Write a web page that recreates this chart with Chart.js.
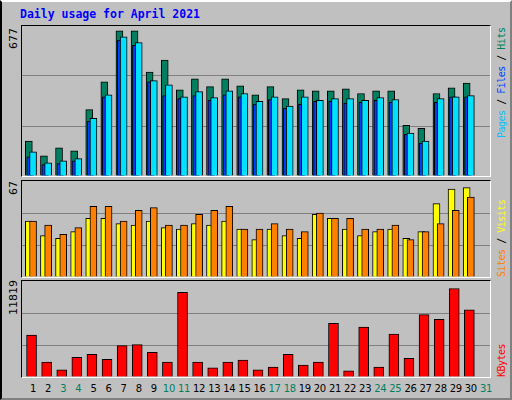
<!DOCTYPE html>
<html>
<head>
<meta charset="utf-8">
<script src="https://cdn.jsdelivr.net/npm/chart.js@4"></script>
<style>
  body { margin: 0; background: #fff; }
  #frame { position: relative; width: 508px; height: 396px; background: #c0c0c0;
    border-left: 2px solid #000; border-top: 2px solid #fff; border-right: 2px solid #808080; border-bottom: 2px solid #808080; }
  .panel { position: absolute; left: 19px; width: 468px; background: #c0c0c0;
    border-left: 1px solid #000; border-top: 1px solid #000; border-right: 1px solid #fff; border-bottom: 1px solid #fff; }
  .panel canvas { display: block; }
  .txt { position: absolute; font-family: "DejaVu Sans Mono", monospace; font-size: 10px; letter-spacing: -0.5px; white-space: nowrap; line-height: 12px; }
  .rot { transform-origin: left top; transform: rotate(-90deg); }
  #title { left: 18px; top: 6px; color: #0000ff; font-weight: bold; font-size: 11.5px; letter-spacing: 0; }
  .day { position: absolute; top: 381px; font-family: "DejaVu Sans", sans-serif; font-size: 10px; letter-spacing: -0.3px; transform: translateX(-50%); }
</style>
</head>
<body>
<div id="frame">
  <div class="txt" id="title">Daily usage for April 2021</div>
  <div class="panel" style="top:23px;height:150px"><canvas id="c1" width="468" height="150"></canvas></div>
  <div class="panel" style="top:178px;height:96px"><canvas id="c2" width="468" height="96"></canvas></div>
  <div class="panel" style="top:278px;height:96px"><canvas id="c3" width="468" height="96"></canvas></div>
  <div class="txt rot" style="left:6px;top:47px;font-family:'DejaVu Sans',sans-serif;font-size:11px;letter-spacing:0">677</div>
  <div class="txt rot" style="left:6px;top:193px;font-family:'DejaVu Sans',sans-serif;font-size:11px;letter-spacing:0">67</div>
  <div class="txt rot" style="left:6px;top:313px;font-family:'DejaVu Sans',sans-serif;font-size:11px;letter-spacing:0">11819</div>
  <div class="txt rot" style="left:494px;top:136px"><span style="color:#00c0ff">Pages</span> / <span style="color:#0040ff">Files</span> / <span style="color:#008060">Hits</span></div>
  <div class="txt rot" style="left:494px;top:275px"><span style="color:#ff8000">Sites</span> / <span style="color:#ffff00">Visits</span></div>
  <div class="txt rot" style="left:494px;top:375px;color:#ff0000">KBytes</div>
  <div id="days"></div>
</div>
<script>
const days = ["1","2","3","4","5","6","7","8","9","10","11","12","13","14","15","16","17","18","19","20","21","22","23","24","25","26","27","28","29","30","31"];
const weekendDays = ["3","4","10","11","17","18","24","25","31"];

const hits = [163,94,131,117,310,439,677,677,485,541,402,453,417,453,421,379,417,361,402,398,398,407,385,398,398,237,223,385,412,434,null];
const files = [90,53,58,71,255,370,633,610,439,375,361,375,353,379,370,335,357,316,335,348,348,340,344,353,344,195,154,344,370,370,null];
const pages = [113,62,71,81,269,379,650,623,445,426,370,394,366,398,385,348,370,326,370,353,361,361,353,366,357,200,163,361,370,375,null];
const sites = [42,31,29,34,44,44,40,39,42,37,36,40,39,42,36,28,36,31,29,47,44,36,31,34,36,29,34,55,66,67,null];
const visits = [42,39,32,37,53,53,42,50,52,39,39,47,50,53,36,36,40,36,34,48,44,44,36,36,39,28,34,40,50,60,null];
const kbytes = [5610,1985,950,2630,3020,2375,4190,4315,3280,1985,11310,1985,1210,1985,2245,950,1340,3020,1600,1985,7165,820,6650,1340,5740,2505,8330,7685,11819,8975,null];

// nudge bars sideways so the series overlap like the original
const shiftPlugin = {
  id: "shift",
  beforeDatasetsDraw(chart) {
    chart.data.datasets.forEach((ds, i) => {
      const meta = chart.getDatasetMeta(i);
      if (meta._shifted) return;
      meta.data.forEach((bar) => { bar.x += ds.shift || 0; });
      meta._shifted = true;
    });
  },
};

function makeChart(id, yMax, datasets) {
  return new Chart(document.getElementById(id), {
    type: "bar",
    data: { labels: days, datasets: datasets.map((d) => ({
      borderColor: "#000", borderWidth: 1, grouped: false, borderSkipped: "bottom", ...d })) },
    options: {
      responsive: false, animation: false,
      layout: { padding: 0 },
      plugins: { legend: { display: false }, tooltip: { enabled: false } },
      scales: {
        x: { display: false },
        y: {
          min: 0, max: yMax, display: true,
          ticks: { display: false, stepSize: yMax / 3 },
          border: { display: false },
          grid: { color: (c) => (c.index === 1 || c.index === 2 ? "#808080" : "rgba(0,0,0,0)"), lineWidth: 1, drawTicks: false },
        },
      },
    },
    plugins: [shiftPlugin],
  });
}

makeChart("c1", 700, [
  { data: hits, backgroundColor: "#008060", barThickness: 7, shift: -0.7, order: 3 },
  { data: files, backgroundColor: "#0040ff", barThickness: 7, shift: 0.7, order: 2 },
  { data: pages, backgroundColor: "#00e0ff", barThickness: 7, shift: 3.5, order: 1 },
]);
makeChart("c2", 72, [
  { data: sites, backgroundColor: "#ffff00", barThickness: 7, shift: -0.7, order: 2 },
  { data: visits, backgroundColor: "#ff8000", barThickness: 7, shift: 3.5, order: 1 },
]);
const c3 = makeChart("c3", 12820, [
  { data: kbytes, backgroundColor: "#ff0000", barThickness: 10, shift: 2 },
]);

const xs = c3.scales.x;
const dayBox = document.getElementById("days");
days.forEach((d, i) => {
  const el = document.createElement("div");
  el.className = "day";
  el.textContent = d;
  el.style.left = (20 + xs.getPixelForValue(i) + 3.5) + "px";
  el.style.color = weekendDays.includes(d) ? "#008060" : "#000";
  dayBox.appendChild(el);
});
</script>
</body>
</html>
